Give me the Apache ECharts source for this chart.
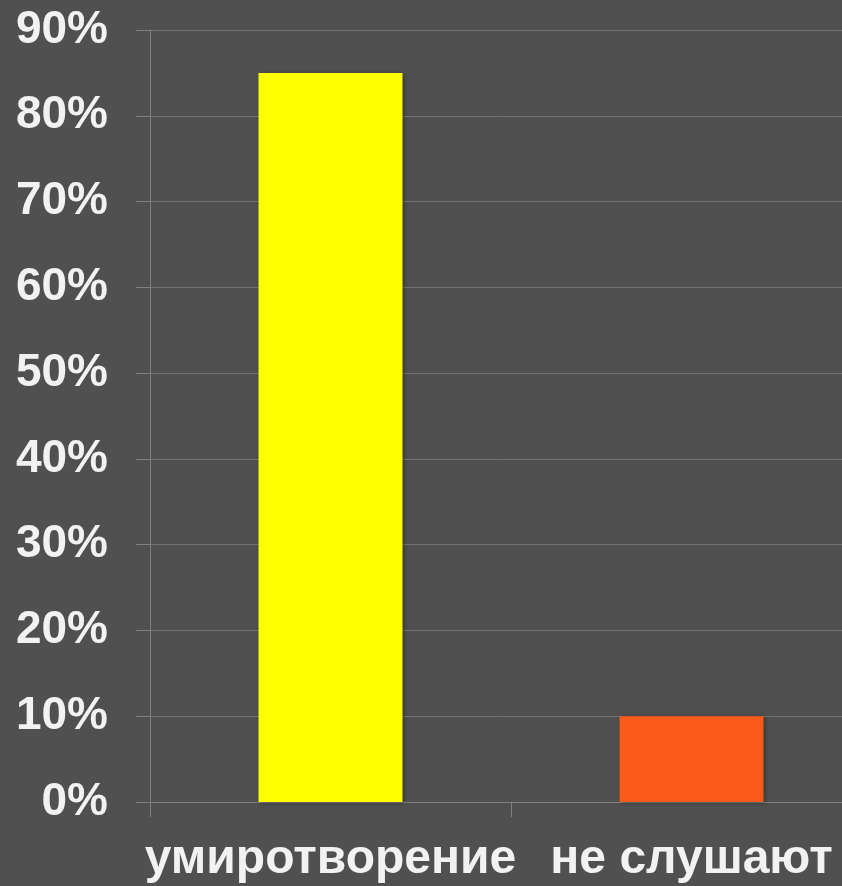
<!DOCTYPE html>
<html>
<head>
<meta charset="utf-8">
<script src="https://cdn.jsdelivr.net/npm/echarts@6/dist/echarts.min.js"></script>
<style>
  html, body { margin: 0; padding: 0; background: #505050; }
  #chart { width: 842px; height: 886px; }
</style>
</head>
<body>
<div id="chart"></div>
<script>
// данные
const categories = ['умиротворение', 'не слушают']
const values = [85, 10]
const yTicks = { min: 0, max: 90, step: 10 }

// цвета столбцов
const barColors = ['#ffff00', '#fa5a1a']

const chart = echarts.init(document.getElementById('chart'))

const option = {
  backgroundColor: '#505050',
  animation: false,
  textStyle: {
    fontFamily: 'Liberation Sans, Arial, sans-serif'
  },
  // область графика уходит за правый край картинки
  grid: {
    left: 150,
    right: -30,
    top: 30,
    bottom: 84,
    outerBoundsMode: 'none',
    containLabel: false
  },
  xAxis: {
    type: 'category',
    data: categories,
    axisLine: { lineStyle: { color: '#808080', width: 1 } },
    axisTick: { show: true, length: 15, lineStyle: { color: '#808080' } },
    axisLabel: {
      color: '#f2f2f2',
      fontSize: 48,
      fontWeight: 'bold',
      margin: 34,
      interval: 0
    }
  },
  yAxis: {
    type: 'value',
    min: yTicks.min,
    max: yTicks.max,
    interval: yTicks.step,
    axisLine: { show: true, lineStyle: { color: '#808080', width: 1 } },
    axisTick: { show: true, length: 14, lineStyle: { color: '#808080' } },
    splitLine: { lineStyle: { color: '#737373', width: 1 } },
    axisLabel: {
      formatter: '{value}%',
      color: '#f2f2f2',
      fontSize: 46,
      fontWeight: 'bold',
      margin: 42
    }
  },
  series: [
    {
      type: 'bar',
      barWidth: 144,
      data: values.map((v, i) => ({
        value: v,
        itemStyle: {
          color: barColors[i],
          shadowColor: 'rgba(0,0,0,0.35)',
          shadowBlur: 4,
          shadowOffsetX: 1,
          shadowOffsetY: 1
        }
      }))
    }
  ]
}

chart.setOption(option)
</script>
</body>
</html>
